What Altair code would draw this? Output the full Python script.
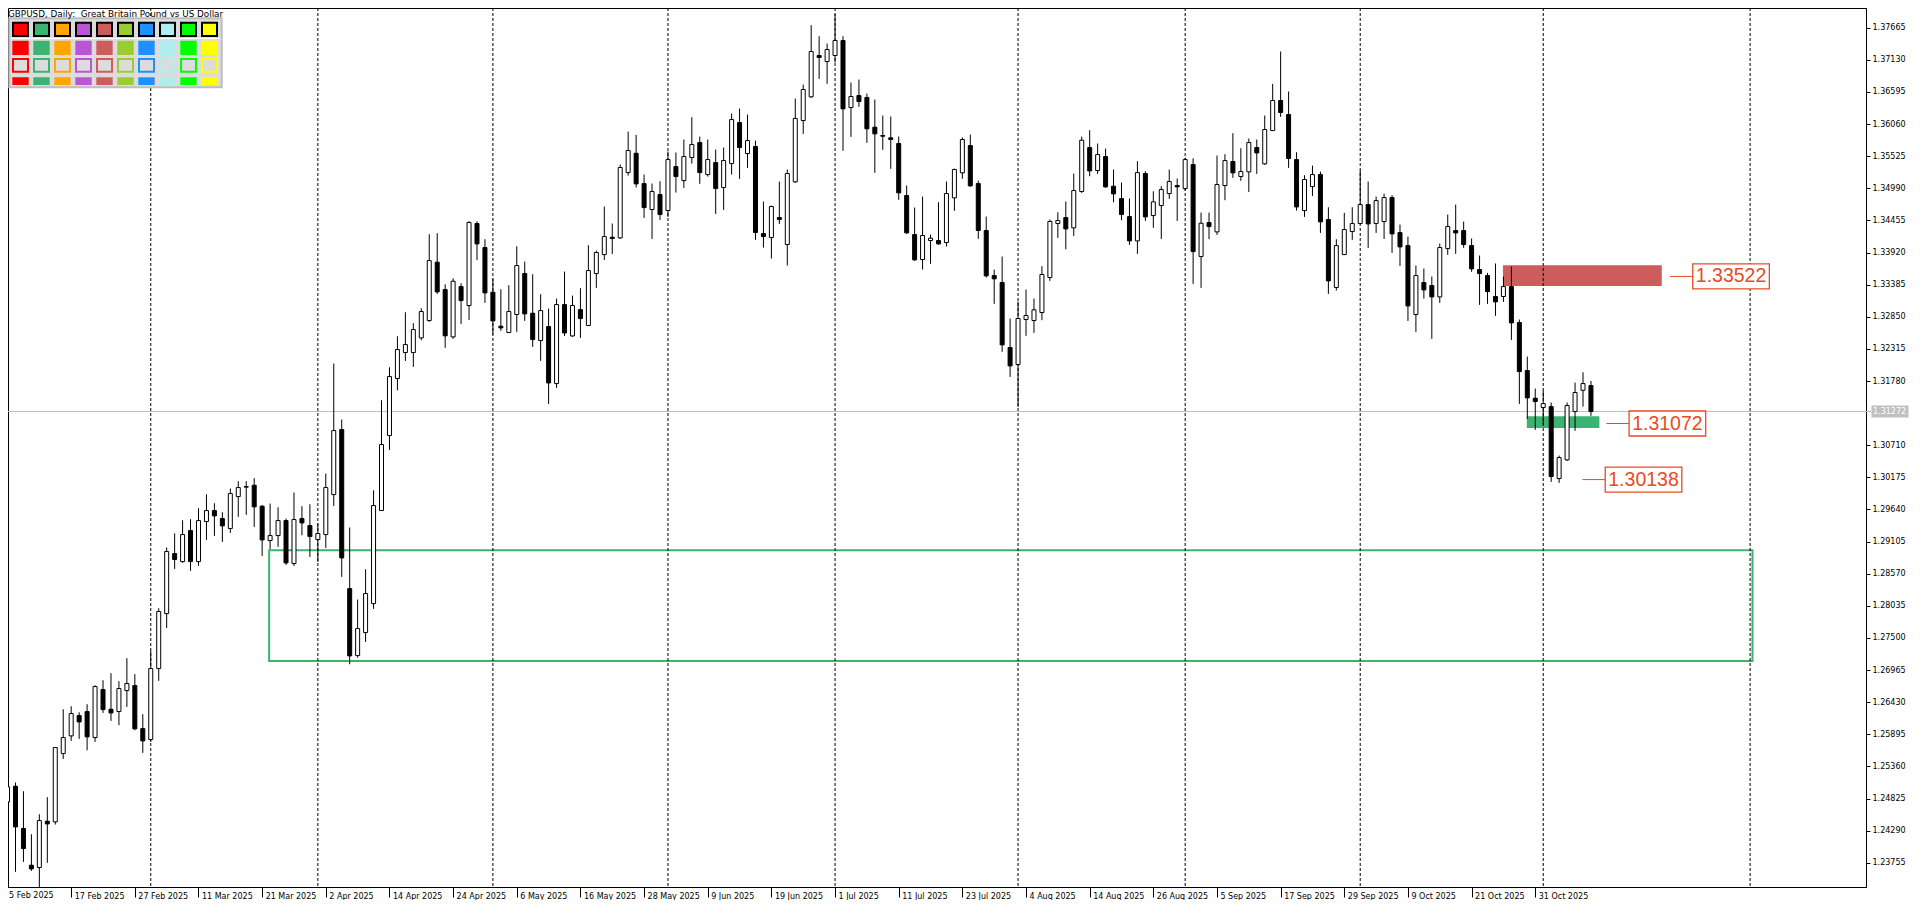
import json
import altair as alt
import pandas as pd

# ---------------- data (GBPUSD daily, 5 Feb 2025 -> 11 Nov 2025) -------------
OPEN = [
    1.24769, 1.25030, 1.24325, 1.23714, 1.23675, 1.24447, 1.24436, 1.25574, 1.25868, 1.26207,
    1.26274, 1.25840, 1.26640, 1.26312, 1.26274, 1.26623, 1.26707, 1.25990, 1.25807, 1.26990,
    1.27906, 1.28906, 1.28772, 1.29289, 1.28772, 1.29439, 1.29622, 1.29489, 1.29322, 1.29855,
    1.30011, 1.30044, 1.29694, 1.29122, 1.29205, 1.29455, 1.28739, 1.29488, 1.29372, 1.29139,
    1.29222, 1.29888, 1.30971, 1.28322, 1.27206, 1.27589, 1.28072, 1.29622, 1.30871, 1.31821,
    1.32254, 1.32254, 1.32498, 1.32787, 1.33759, 1.33303, 1.32515, 1.33353, 1.33037, 1.34403,
    1.34003, 1.33259, 1.32693, 1.32587, 1.32887, 1.33570, 1.32909, 1.32454, 1.32687, 1.31737,
    1.33053, 1.32531, 1.32970, 1.32704, 1.33570, 1.33886, 1.34175, 1.34164, 1.35252, 1.35574,
    1.35069, 1.34636, 1.34886, 1.34619, 1.35352, 1.35119, 1.35502, 1.35752, 1.35219, 1.35419,
    1.35003, 1.35402, 1.36085, 1.35569, 1.35686, 1.34236, 1.34170, 1.34503, 1.34053, 1.35098,
    1.36119, 1.36514, 1.37202, 1.37102, 1.37202, 1.37452, 1.36336, 1.36536, 1.36503, 1.36008,
    1.35869, 1.35831, 1.35736, 1.34870, 1.34220, 1.33804, 1.34120, 1.34120, 1.34087, 1.34831,
    1.35248, 1.35703, 1.35070, 1.34287, 1.33537, 1.33421, 1.32338, 1.32055, 1.32804, 1.32788,
    1.32921, 1.33504, 1.34404, 1.34503, 1.34331, 1.34936, 1.35669, 1.35286, 1.35519, 1.35025,
    1.34819, 1.34519, 1.34114, 1.35236, 1.34536, 1.34703, 1.34903, 1.35036, 1.34986, 1.35386,
    1.33853, 1.34420, 1.34264, 1.35036, 1.35436, 1.35186, 1.35264, 1.35669, 1.35397, 1.35952,
    1.36452, 1.36219, 1.35469, 1.34619, 1.35019, 1.35219, 1.34470, 1.33337, 1.33886, 1.34270,
    1.34403, 1.34719, 1.34403, 1.34436, 1.34836, 1.34253, 1.34036, 1.32887, 1.33420, 1.33370,
    1.33181, 1.33986, 1.34286, 1.34286, 1.34036, 1.33637, 1.33537, 1.33187, 1.33187, 1.33353,
    1.32754, 1.31954, 1.31493, 1.31338, 1.31354, 1.30155, 1.30466, 1.31271, 1.31626, 1.31704,
]
HIGH = [
    1.25100, 1.25091, 1.24946, 1.24230, 1.24563, 1.24847, 1.25674, 1.26312, 1.26362, 1.26262,
    1.26396, 1.26712, 1.26796, 1.26912, 1.26779, 1.27162, 1.26896, 1.26229, 1.27290, 1.27995,
    1.29006, 1.29244, 1.29461, 1.29478, 1.29661, 1.29894, 1.29744, 1.29594, 1.29989, 1.30111,
    1.30111, 1.30161, 1.29716, 1.29738, 1.29677, 1.29488, 1.29922, 1.29694, 1.29727, 1.29405,
    1.30238, 1.32071, 1.31138, 1.29339, 1.28139, 1.28644, 1.29960, 1.31460, 1.32009, 1.32526,
    1.32926, 1.32743, 1.32992, 1.34225, 1.34242, 1.33392, 1.33492, 1.33409, 1.34442, 1.34442,
    1.34142, 1.33481, 1.33309, 1.33376, 1.34025, 1.33770, 1.33559, 1.33226, 1.32987, 1.33153,
    1.33603, 1.33203, 1.33326, 1.34042, 1.33953, 1.34686, 1.34403, 1.35386, 1.35935, 1.35880,
    1.35219, 1.35069, 1.35108, 1.35602, 1.35586, 1.35802, 1.36174, 1.35852, 1.35802, 1.35636,
    1.35669, 1.36235, 1.36319, 1.36219, 1.35785, 1.34769, 1.34703, 1.35102, 1.35302, 1.36486,
    1.36719, 1.37708, 1.37524, 1.37402, 1.37891, 1.37524, 1.36752, 1.36802, 1.36569, 1.36469,
    1.36203, 1.36186, 1.35853, 1.35037, 1.34670, 1.34853, 1.34220, 1.34759, 1.35103, 1.35320,
    1.35836, 1.35886, 1.35120, 1.34520, 1.33637, 1.33854, 1.32821, 1.33104, 1.33304, 1.33154,
    1.33693, 1.34470, 1.34592, 1.34769, 1.35236, 1.35852, 1.35958, 1.35736, 1.35652, 1.35302,
    1.35086, 1.34819, 1.35441, 1.35275, 1.34941, 1.35025, 1.35302, 1.35153, 1.35497, 1.35491,
    1.34586, 1.34586, 1.35536, 1.35558, 1.35908, 1.35658, 1.35819, 1.35802, 1.36202, 1.36730,
    1.37268, 1.36602, 1.35591, 1.35208, 1.35369, 1.35269, 1.34675, 1.34142, 1.34581, 1.34675,
    1.35291, 1.35103, 1.34853, 1.34903, 1.34875, 1.34386, 1.34186, 1.33703, 1.33653, 1.33520,
    1.34070, 1.34553, 1.34719, 1.34436, 1.34153, 1.33870, 1.33581, 1.33737, 1.33520, 1.33687,
    1.32804, 1.32187, 1.31654, 1.31621, 1.31421, 1.30538, 1.31421, 1.31754, 1.31926, 1.31782,
]
LOW = [
    1.24700, 1.23603, 1.23769, 1.23619, 1.23319, 1.23753, 1.24391, 1.25485, 1.25785, 1.25818,
    1.25629, 1.25768, 1.26251, 1.26118, 1.26046, 1.26351, 1.25963, 1.25585, 1.25768, 1.26785,
    1.27667, 1.28650, 1.28750, 1.28617, 1.28700, 1.29133, 1.29200, 1.29100, 1.29250, 1.29517,
    1.29550, 1.29350, 1.28867, 1.28978, 1.29016, 1.28717, 1.28700, 1.29211, 1.28850, 1.28767,
    1.29000, 1.29699, 1.28517, 1.27062, 1.27173, 1.27434, 1.27984, 1.29622, 1.30632, 1.31626,
    1.32115, 1.32015, 1.32459, 1.32765, 1.33231, 1.32332, 1.32482, 1.32731, 1.32798, 1.33792,
    1.33081, 1.32554, 1.32615, 1.32587, 1.32598, 1.32781, 1.32348, 1.32115, 1.31399, 1.31665,
    1.32531, 1.32515, 1.32498, 1.32704, 1.33331, 1.33797, 1.33897, 1.34147, 1.35202, 1.35003,
    1.34497, 1.34147, 1.34464, 1.34514, 1.34919, 1.34997, 1.35402, 1.35064, 1.35186, 1.34564,
    1.34630, 1.35219, 1.35147, 1.35330, 1.34131, 1.34003, 1.33820, 1.34397, 1.33703, 1.35081,
    1.35897, 1.36497, 1.36813, 1.36730, 1.37086, 1.35614, 1.35847, 1.36347, 1.35747, 1.35248,
    1.35631, 1.35314, 1.34798, 1.34231, 1.33782, 1.33637, 1.33732, 1.34048, 1.34020, 1.34614,
    1.35148, 1.35014, 1.34148, 1.33504, 1.33065, 1.32266, 1.31849, 1.31349, 1.32532, 1.32582,
    1.32793, 1.33448, 1.34165, 1.33975, 1.34197, 1.34914, 1.35191, 1.35230, 1.34997, 1.34758,
    1.34458, 1.34047, 1.33898, 1.34447, 1.34331, 1.34147, 1.34814, 1.34447, 1.34953, 1.33398,
    1.33331, 1.34142, 1.34214, 1.34792, 1.35164, 1.35114, 1.34930, 1.35230, 1.35380, 1.35952,
    1.36180, 1.35330, 1.34619, 1.34514, 1.34864, 1.34247, 1.33231, 1.33287, 1.33886, 1.34131,
    1.34403, 1.33998, 1.34247, 1.34147, 1.33914, 1.33698, 1.32781, 1.32598, 1.33154, 1.32482,
    1.33081, 1.33881, 1.33898, 1.33998, 1.33598, 1.33048, 1.33065, 1.32865, 1.33098, 1.32465,
    1.31399, 1.31149, 1.30966, 1.31049, 1.30099, 1.30083, 1.30449, 1.30949, 1.31354, 1.31199,
]
CLOSE = [
    1.25019, 1.24352, 1.23991, 1.23653, 1.24458, 1.24402, 1.25674, 1.25840, 1.26240, 1.26101,
    1.25852, 1.26690, 1.26307, 1.26251, 1.26657, 1.26740, 1.25985, 1.25785, 1.26990, 1.27940,
    1.28939, 1.28806, 1.29222, 1.28772, 1.29455, 1.29622, 1.29533, 1.29367, 1.29905, 1.30005,
    1.30022, 1.29683, 1.29133, 1.29205, 1.29455, 1.28750, 1.29472, 1.29416, 1.29189, 1.29239,
    1.30005, 1.30954, 1.28833, 1.27201, 1.27656, 1.28239, 1.29705, 1.30721, 1.31854, 1.32304,
    1.32387, 1.32637, 1.32937, 1.33786, 1.33265, 1.32532, 1.33442, 1.33120, 1.34420, 1.34064,
    1.33248, 1.32781, 1.32665, 1.32937, 1.33703, 1.32898, 1.32470, 1.32953, 1.31748, 1.33053,
    1.32581, 1.33037, 1.32820, 1.33620, 1.33920, 1.34186, 1.34153, 1.35336, 1.35619, 1.35064,
    1.34669, 1.34936, 1.34553, 1.35469, 1.35186, 1.35519, 1.35719, 1.35252, 1.35469, 1.34986,
    1.35452, 1.36135, 1.35669, 1.35785, 1.34253, 1.34186, 1.34686, 1.34469, 1.35236, 1.36153,
    1.36636, 1.37269, 1.37169, 1.37302, 1.37452, 1.36314, 1.36519, 1.36436, 1.35981, 1.35897,
    1.35858, 1.35803, 1.34914, 1.34248, 1.33798, 1.34204, 1.34159, 1.34065, 1.34903, 1.35303,
    1.35803, 1.35031, 1.34287, 1.33532, 1.33482, 1.32382, 1.32032, 1.32821, 1.32871, 1.32965,
    1.33554, 1.34437, 1.34453, 1.34314, 1.34953, 1.35791, 1.35280, 1.35552, 1.35014, 1.34897,
    1.34553, 1.34114, 1.35252, 1.34514, 1.34764, 1.34969, 1.35103, 1.35014, 1.35469, 1.33936,
    1.34408, 1.34353, 1.35053, 1.35452, 1.35247, 1.35269, 1.35752, 1.35580, 1.35969, 1.36452,
    1.36252, 1.35486, 1.34680, 1.35136, 1.35219, 1.34431, 1.33448, 1.34036, 1.34303, 1.34403,
    1.34719, 1.34397, 1.34786, 1.34836, 1.34231, 1.34014, 1.33031, 1.33537, 1.33298, 1.33181,
    1.34003, 1.34353, 1.34247, 1.34053, 1.33648, 1.33570, 1.33270, 1.33098, 1.33353, 1.32748,
    1.31937, 1.31499, 1.31438, 1.31404, 1.30188, 1.30505, 1.31371, 1.31588, 1.31737, 1.31272,
]

X_TICK_INDEX = [0, 8, 16, 24, 32, 40, 48, 56, 64, 72, 80, 88, 96, 104, 112, 120, 128, 136,
                144, 152, 160, 168, 176, 184, 192]
X_TICK_LABELS = ["5 Feb 2025", "17 Feb 2025", "27 Feb 2025", "11 Mar 2025", "21 Mar 2025",
                 "2 Apr 2025", "14 Apr 2025", "24 Apr 2025", "6 May 2025", "16 May 2025",
                 "28 May 2025", "9 Jun 2025", "19 Jun 2025", "1 Jul 2025", "11 Jul 2025",
                 "23 Jul 2025", "4 Aug 2025", "14 Aug 2025", "26 Aug 2025", "5 Sep 2025",
                 "17 Sep 2025", "29 Sep 2025", "9 Oct 2025", "21 Oct 2025", "31 Oct 2025"]
Y_TICKS = [1.37665, 1.37130, 1.36595, 1.36060, 1.35525, 1.34990, 1.34455, 1.33920, 1.33385,
           1.32850, 1.32315, 1.31780, 1.30710, 1.30175, 1.29640, 1.29105, 1.28570, 1.28035,
           1.27500, 1.26965, 1.26430, 1.25895, 1.25360, 1.24825, 1.24290, 1.23755]
MONTH_SEPARATORS = [18, 39, 61, 83, 104, 127, 148, 170, 193, 219]
CURRENT_PRICE = 1.31272

OUTLINE_ZONE = {"x1": 32.875, "x2": 219.3, "lo": 1.27117, "hi": 1.28962}
FILLED_ZONES_X1 = [187.94, 190.94]
FILLED_ZONES_X2 = [207.90, 200.06]
FILLED_ZONES_LO = [1.33364, 1.30999]
FILLED_ZONES_HI = [1.33709, 1.31194]
FILLED_ZONES_COLOR = ["#CD5C5C", "#3CB371"]

LEVEL_PRICES = [1.33522, 1.31072, 1.30138]
LEVEL_ANCHOR = [208.94, 200.94, 197.94]

PALETTE = ["#FF0000", "#3CB371", "#FFA500", "#BA55D3", "#CD5C5C",
           "#9ACD32", "#1E90FF", "#AFEEEE", "#00FF00", "#FFFF00"]

TITLE = "GBPUSD, Daily:\u00a0 Great Britain Pound vs US Dollar"

# ---------------- layout / style ----------------
W, H = 1858, 879
X_DOMAIN = [0.6875, 232.9375]
Y_DOMAIN = [1.2335103, 1.3799367]
ORANGE = "#E94A25"
AX_FONT = "DejaVu Sans"

XS = alt.Scale(domain=X_DOMAIN, zero=False, nice=False)
YS = alt.Scale(domain=Y_DOMAIN, zero=False, nice=False)

label_expr = (f"{json.dumps(X_TICK_LABELS[1:])}"
              f"[indexof({json.dumps(X_TICK_INDEX[1:])}, datum.value)]")

XAX = alt.Axis(values=X_TICK_INDEX[1:], labelExpr=label_expr, orient="bottom", title=None,
               grid=False, tickSize=10, tickColor="black", domainColor="black",
               labelAlign="left", labelBaseline="middle", labelPadding=-1, labelOffset=3,
               labelFont=AX_FONT, labelFontSize=8, labelColor="black",
               labelOverlap=False, labelFlush=False, labelBound=False)
YAX = alt.Axis(values=Y_TICKS, format=".5f", orient="right", title=None, grid=False,
               tickSize=4, tickColor="black", domainColor="black", labelPadding=2,
               labelFont=AX_FONT, labelFontSize=8, labelColor="black",
               labelOverlap=False, labelFlush=False, labelBound=False)


def X(f):
    return alt.X(f, type="quantitative", scale=XS, axis=XAX)


def Y(f):
    return alt.Y(f, type="quantitative", scale=YS, axis=YAX)


candles = pd.DataFrame({"i": list(range(len(OPEN))), "o": OPEN, "h": HIGH, "l": LOW, "c": CLOSE})
candles["lo"] = candles[["o", "c"]].min(axis=1)
candles["hi"] = candles[["o", "c"]].max(axis=1)
candles["dir"] = ["up" if c >= o else "down" for o, c in zip(OPEN, CLOSE)]

one = pd.DataFrame({"k": [0]})

outline = alt.Chart(pd.DataFrame([OUTLINE_ZONE])).mark_rect(
    fillOpacity=0, stroke="#3CB371", strokeWidth=2).encode(
    x=X("x1"), x2="x2", y=Y("lo"), y2="hi")

zones = alt.Chart(pd.DataFrame({"x1": FILLED_ZONES_X1, "x2": FILLED_ZONES_X2,
                                "lo": FILLED_ZONES_LO, "hi": FILLED_ZONES_HI,
                                "col": FILLED_ZONES_COLOR})).mark_rect().encode(
    x=X("x1"), x2="x2", y=Y("lo"), y2="hi",
    fill=alt.Fill("col:N", scale=None, legend=None))

grid = alt.Chart(pd.DataFrame({"g": MONTH_SEPARATORS})).mark_rule(
    color="black", strokeWidth=1, strokeDash=[3, 2]).encode(x=X("g"))

price_line = alt.Chart(pd.DataFrame({"p": [CURRENT_PRICE]})).mark_rule(
    color="#C0C0C0", strokeWidth=1).encode(
    x=alt.value(0), x2=alt.value(W + 5), y=Y("p"))

wicks = alt.Chart(candles).mark_rule(color="black", strokeWidth=1, clip=True).encode(
    x=X("i"), y=Y("l"), y2="h")

bodies = alt.Chart(candles).mark_bar(size=4, stroke="black", strokeWidth=1, clip=True).encode(
    x=X("i"), y=Y("lo"), y2="hi",
    fill=alt.Fill("dir:N", scale=alt.Scale(domain=["up", "down"], range=["#FFFFFF", "#000000"]),
                  legend=None))

levels = pd.DataFrame({"a": LEVEL_ANCHOR, "p": LEVEL_PRICES,
                       "t": [f"{p:.5f}" for p in LEVEL_PRICES]})
lev_lines = alt.Chart(levels).mark_rule(color=ORANGE, strokeWidth=1, x2Offset=22.7).encode(
    x=X("a"), x2="a", y=Y("p"))
lev_boxes = alt.Chart(levels).mark_rect(
    fill="white", stroke=ORANGE, strokeWidth=1.3,
    xOffset=22.7, x2Offset=99.3, yOffset=-12.5, y2Offset=12.5).encode(
    x=X("a"), x2="a", y=Y("p"), y2="p")
lev_text = alt.Chart(levels).mark_text(
    dx=61, align="center", baseline="middle", font="Liberation Sans", fontSize=19.5,
    color=ORANGE).encode(x=X("a"), y=Y("p"), text="t:N")

price_tag = alt.Chart(pd.DataFrame({"p": [CURRENT_PRICE]})).mark_rect(
    fill="#C0C0C0", yOffset=-6, y2Offset=6).encode(
    x=alt.value(W + 5.5), x2=alt.value(W + 42.5), y=Y("p"), y2="p")
price_tag_text = alt.Chart(pd.DataFrame({"p": [CURRENT_PRICE]})).mark_text(
    align="left", baseline="middle", font=AX_FONT, fontSize=8, color="white").encode(
    x=alt.value(W + 7), y=Y("p"), text=alt.Text("p:Q", format=".5f"))

first_label = alt.Chart(one).mark_text(
    align="left", baseline="middle", font=AX_FONT, fontSize=8, color="black").encode(
    x=alt.value(1), y=alt.value(H + 9), text=alt.value(X_TICK_LABELS[0]))

# ------------- colour palette panel (top-left) -------------
pal = pd.DataFrame({"col": list(range(len(PALETTE))), "color": PALETTE})
panel = alt.Chart(one).mark_rect(fill="#DCDCDC", stroke="#BEBEBE", strokeWidth=2).encode(
    x=alt.value(1.3), x2=alt.value(213.7), y=alt.value(10.3), y2=alt.value(79.3))
sep = alt.Chart(one).mark_rule(color="white", strokeWidth=1).encode(
    x=alt.value(2.5), x2=alt.value(212.5), y=alt.value(30.5))


def pal_row(y1, y2, half, fill=None, stroke=None, sw=0):
    base = alt.Chart(pal).transform_calculate(
        px1=f"12.5 + 21*datum.col - {half}", px2=f"12.5 + 21*datum.col + {half}")
    kw = {}
    enc = dict(x=alt.X("px1:Q", scale=None, axis=None), x2="px2:Q",
               y=alt.value(y1), y2=alt.value(y2))
    if fill == "field":
        enc["fill"] = alt.Fill("color:N", scale=None, legend=None)
    else:
        kw["fill"] = fill
    if stroke == "field":
        enc["stroke"] = alt.Stroke("color:N", scale=None, legend=None)
        kw["strokeWidth"] = sw
    elif stroke is not None:
        kw["stroke"] = stroke
        kw["strokeWidth"] = sw
    return base.mark_rect(**kw).encode(**enc)


row1 = pal_row(14.7, 28.0, 7.5, fill="field", stroke="black", sw=2)
row2 = pal_row(32.7, 47.0, 8.2, fill="field")
row3 = pal_row(51.0, 63.7, 7.5, fill="#DCDCDC", stroke="field", sw=2)
row4 = pal_row(69.3, 77.0, 8.2, fill="field")

title = alt.Chart(one).mark_text(
    align="left", baseline="alphabetic", font=AX_FONT, fontSize=8.8, color="black").encode(
    x=alt.value(0), y=alt.value(8.6), text=alt.value(TITLE))

chart = alt.layer(
    outline, zones, grid, price_line, wicks, bodies,
    lev_lines, lev_boxes, lev_text, price_tag, price_tag_text, first_label,
    panel, sep, row1, row2, row3, row4, title,
).properties(
    width=W, height=H,
    padding={"left": 0, "top": 0, "right": 46, "bottom": 13},
    autosize=alt.AutoSizeParams(type="none"),
    background="white",
).configure_view(stroke="black", strokeWidth=1)

chart.save("out.html", embed_options={"renderer": "svg", "actions": False})
